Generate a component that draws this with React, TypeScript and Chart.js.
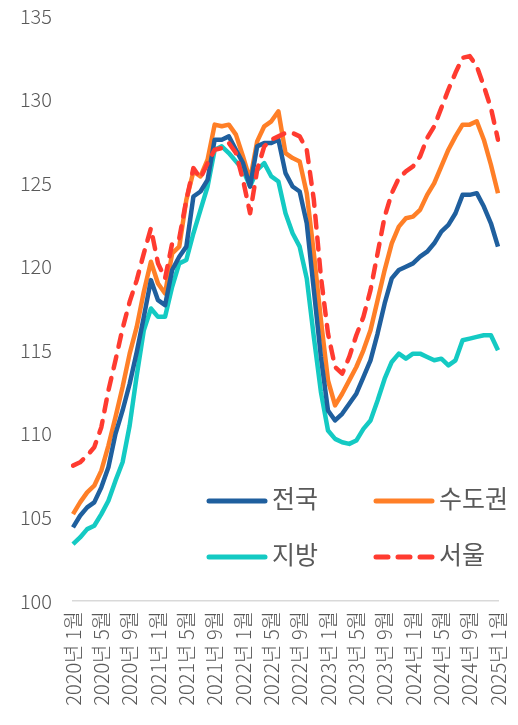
import React, { useEffect, useRef } from "react";
import { Chart, registerables } from "chart.js";

Chart.register(...registerables);

const months: string[] = [
  "2020년 1월","2020년 2월","2020년 3월","2020년 4월","2020년 5월","2020년 6월","2020년 7월","2020년 8월","2020년 9월","2020년 10월","2020년 11월","2020년 12월",
  "2021년 1월","2021년 2월","2021년 3월","2021년 4월","2021년 5월","2021년 6월","2021년 7월","2021년 8월","2021년 9월","2021년 10월","2021년 11월","2021년 12월",
  "2022년 1월","2022년 2월","2022년 3월","2022년 4월","2022년 5월","2022년 6월","2022년 7월","2022년 8월","2022년 9월","2022년 10월","2022년 11월","2022년 12월",
  "2023년 1월","2023년 2월","2023년 3월","2023년 4월","2023년 5월","2023년 6월","2023년 7월","2023년 8월","2023년 9월","2023년 10월","2023년 11월","2023년 12월",
  "2024년 1월","2024년 2월","2024년 3월","2024년 4월","2024년 5월","2024년 6월","2024년 7월","2024년 8월","2024년 9월","2024년 10월","2024년 11월","2024년 12월",
  "2025년 1월",
];

const tickLabels: string[] = [
  "2020년 1월","2020년 5월","2020년 9월","2021년 1월","2021년 5월","2021년 9월",
  "2022년 1월","2022년 5월","2022년 9월","2023년 1월","2023년 5월","2023년 9월",
  "2024년 1월","2024년 5월","2024년 9월","2025년 1월",
];

const nationwide: number[] = [
  104.4,105.1,105.6,105.9,106.8,108.0,110.0,111.4,113.0,114.9,117.0,119.2,
  118.0,117.7,119.8,120.6,121.2,124.2,124.5,125.2,127.6,127.6,127.8,127.0,
  126.2,124.8,127.2,127.4,127.4,127.6,125.6,124.8,124.5,122.6,118.6,114.6,
  111.4,110.8,111.2,111.8,112.4,113.4,114.4,116.0,117.8,119.3,119.8,120.0,
  120.2,120.6,120.9,121.4,122.1,122.5,123.2,124.3,124.3,124.4,123.6,122.6,
  121.2,
];

const capital: number[] = [
  105.2,105.9,106.5,106.9,107.8,109.3,111.0,112.8,114.8,116.4,118.5,120.3,
  119.0,118.4,120.8,121.2,124.0,125.7,125.4,126.4,128.5,128.4,128.5,127.9,
  126.6,125.2,127.5,128.4,128.7,129.3,126.8,126.5,126.3,124.4,120.8,116.8,
  113.2,111.7,112.4,113.2,114.0,115.0,116.2,118.0,119.8,121.4,122.4,122.9,
  123.0,123.4,124.3,125.0,126.0,127.0,127.8,128.5,128.5,128.7,127.6,126.1,
  124.4,
];

const regions: number[] = [
  103.4,103.8,104.3,104.5,105.2,106.0,107.2,108.3,110.5,113.5,116.2,117.5,
  117.0,117.0,118.8,120.2,120.4,122.0,123.4,124.8,127.0,127.2,126.8,126.3,
  125.8,124.8,125.8,126.2,125.4,125.1,123.2,122.0,121.2,119.3,115.8,112.5,
  110.2,109.7,109.5,109.4,109.6,110.3,110.8,112.0,113.3,114.3,114.8,114.5,
  114.8,114.8,114.6,114.4,114.5,114.1,114.4,115.6,115.7,115.8,115.9,115.9,
  115.0,
];

const seoul: number[] = [
  108.1,108.3,108.7,109.2,110.4,112.6,114.4,116.3,117.9,119.2,120.8,122.3,
  120.2,119.3,121.4,121.7,124.0,125.9,125.3,126.2,127.0,127.1,127.4,126.8,
  125.2,123.2,125.8,127.2,127.6,127.8,128.0,128.0,127.8,127.0,124.0,119.4,
  116.0,114.0,113.6,114.6,115.9,117.0,118.6,120.8,123.0,124.4,125.3,125.7,
  126.0,126.6,127.7,128.4,129.5,130.6,131.6,132.5,132.6,132.0,130.8,129.5,
  127.6,
];

const seriesNames: string[] = ["전국", "수도권", "지방", "서울"];
const seriesColors: string[] = ["#1F5F9E", "#FF7F27", "#14CAC3", "#FF3B30"];

const FONT = '"Noto Sans CJK KR", "Noto Sans", sans-serif';
const TEXT = "#595959";

const legendPlugin = {
  id: "customLegend",
  afterDraw(chart: any) {
    const ctx = chart.ctx;
    const cols = [207, 374];
    const rows = [501, 557];
    ctx.save();
    seriesNames.forEach((name, k) => {
      const ds = chart.data.datasets.find((d: any) => d.label === name);
      const x = cols[k % 2];
      const y = rows[Math.floor(k / 2)];
      ctx.beginPath();
      ctx.lineWidth = 5;
      ctx.lineCap = "round";
      ctx.strokeStyle = ds.borderColor;
      ctx.setLineDash(ds.borderDash || []);
      ctx.moveTo(x + 2, y);
      ctx.lineTo(x + 58, y);
      ctx.stroke();
      ctx.setLineDash([]);
      ctx.fillStyle = TEXT;
      ctx.font = `25px ${FONT}`;
      ctx.textAlign = "left";
      ctx.textBaseline = "middle";
      ctx.fillText(ds.label, x + 65, y - 3);
    });
    ctx.restore();
  },
};

export default function App() {
  const ref = useRef<HTMLCanvasElement | null>(null);
  useEffect(() => {
    if (!ref.current) return;
    const mk = (i: number, data: number[], dash?: number[]) => ({
      label: seriesNames[i],
      data,
      borderColor: seriesColors[i],
      backgroundColor: seriesColors[i],
      borderWidth: 4.5,
      borderDash: dash,
      borderCapStyle: dash ? "round" : "butt",
      borderJoinStyle: "round",
      pointRadius: 0,
      tension: 0,
      fill: false,
    });
    const chart = new Chart(ref.current, {
      type: "line",
      data: {
        labels: months,
        datasets: [
          mk(3, seoul, [12, 10]),
          mk(0, nationwide),
          mk(1, capital),
          mk(2, regions),
        ] as any,
      },
      options: {
        responsive: false,
        animation: false,
        layout: { padding: { top: 16, right: 20, left: 0, bottom: 0 } },
        plugins: { legend: { display: false }, tooltip: { enabled: false } },
        scales: {
          x: {
            grid: { display: false, drawTicks: false },
            border: { display: true, color: "#D9D9D9", width: 1.5 },
            ticks: {
              autoSkip: false,
              minRotation: 90,
              maxRotation: 90,
              padding: 10,
              color: TEXT,
              font: { family: FONT, size: 20, weight: "300" },
              callback: (_v: any, idx: number) =>
                tickLabels.includes(months[idx]) ? months[idx] : "",
            },
            afterFit: (s: any) => {
              s.height = 124;
              s.paddingLeft = 0;
              s.paddingRight = 0;
              s.paddingTop = 0;
              s.paddingBottom = 0;
            },
          },
          y: {
            min: 100,
            max: 135,
            grid: { display: false, drawTicks: false },
            border: { display: false },
            ticks: {
              stepSize: 5,
              padding: 21,
              color: TEXT,
              font: { family: FONT, size: 20, weight: "300" },
            },
            afterFit: (s: any) => {
              s.width = 73;
              s.paddingTop = 0;
              s.paddingBottom = 0;
              s.paddingLeft = 0;
              s.paddingRight = 0;
            },
          },
        },
      } as any,
      plugins: [legendPlugin],
    });
    return () => chart.destroy();
  }, []);
  return (
    <div style={{ position: "fixed", left: 0, top: 0, width: 518, height: 725, background: "#fff" }}>
      <canvas ref={ref} width={518} height={725} />
    </div>
  );
}
